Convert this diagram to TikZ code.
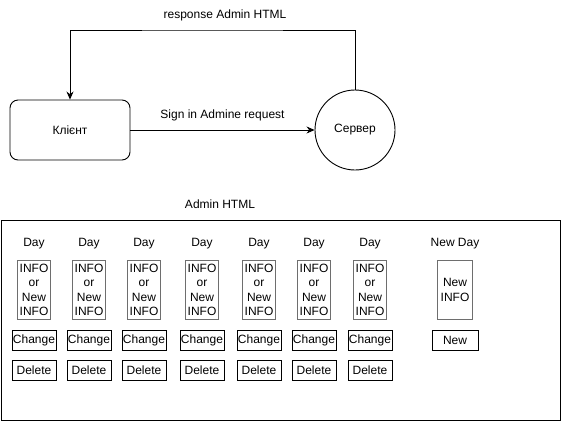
\documentclass[tikz,border=0pt]{standalone}
\usepackage{fontspec}
\setmainfont{Liberation Sans}
\usetikzlibrary{arrows.meta,positioning}
\definecolor{dInk}{HTML}{000000}
\definecolor{dGrey}{HTML}{6E6E6E}

\begin{document}
\begin{tikzpicture}[x=1pt, y=-1pt, font=\fontsize{12}{14}\selectfont,
  client/.style={draw=dInk, rounded corners=8pt, line width=0.9pt, minimum width=120pt, minimum height=60pt},
  server/.style={draw=dInk, circle, line width=0.9pt, minimum size=80pt},
  infobox/.style={draw=dGrey, line width=1.1pt, align=center, inner sep=1pt, minimum width=33pt, minimum height=59pt, font=\fontsize{12}{14.3}\selectfont},
  btn/.style={draw=dInk, line width=0.8pt, inner sep=1pt, minimum width=44pt, minimum height=20pt},
  link/.style={-{Stealth[length=8pt,width=7pt]}, line width=0.8pt},
]
\useasboundingbox (0,0) rectangle (561,421);
% ---- request / response ----
\node[client] (cl) at (70,130){Клієнт};
\node[server] (srv) at (355,130){Сервер};
\draw[link] (cl) -- node[above=5pt]{Sign in Admine request} (srv);
\coordinate (ret) at (212,30);
\draw[link] (srv.north) |- (ret) -| (cl.north);
\node (resp) at (225,15){response Admin HTML};
% ---- admin page ----
\node (admin) at (220,204){Admin HTML};
\draw[line width=0.9pt] (1,220) rectangle (560,420);
\foreach \i/\x in {1/34,2/89,3/144,4/202,5/259,6/314,7/370}{
  \node (day\i) at (\x,244){Day};
  \node[infobox] (info\i) at (\x,290){INFO\\or\\New\\INFO};
  \node[btn] (chg\i) at (\x,340){Change};
  \node[btn] (del\i) at (\x,370){Delete};
}
\node (nday) at (455,244){New Day};
\node[infobox, minimum width=35pt] (ninfo) at (455,290){New\\INFO};
\node[btn, minimum width=46pt] (nbtn) at (455,340){New};
\end{tikzpicture}
\end{document}
